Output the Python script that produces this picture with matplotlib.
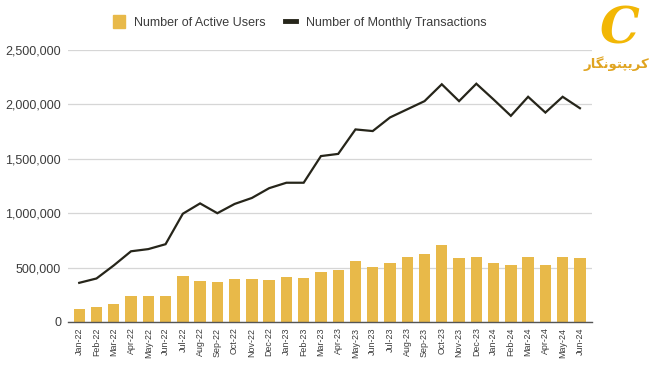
import matplotlib
matplotlib.use("Agg")
import matplotlib.pyplot as plt
from matplotlib.patches import Patch
from matplotlib.lines import Line2D
from matplotlib.ticker import FuncFormatter

months = ["Jan-22", "Feb-22", "Mar-22", "Apr-22", "May-22", "Jun-22", "Jul-22", "Aug-22",
          "Sep-22", "Oct-22", "Nov-22", "Dec-22", "Jan-23", "Feb-23", "Mar-23", "Apr-23",
          "May-23", "Jun-23", "Jul-23", "Aug-23", "Sep-23", "Oct-23", "Nov-23", "Dec-23",
          "Jan-24", "Feb-24", "Mar-24", "Apr-24", "May-24", "Jun-24"]

active_users = [117000, 138000, 166000, 242000, 242000, 242000, 424000, 377000,
                366000, 396000, 396000, 387000, 414000, 405000, 460000, 481000,
                558000, 509000, 546000, 599000, 627000, 704000, 586000, 595000,
                540000, 528000, 595000, 528000, 595000, 586000]

monthly_tx = [360000, 400000, 520000, 650000, 670000, 715000, 995000, 1090000,
              1000000, 1085000, 1140000, 1230000, 1280000, 1280000, 1525000, 1545000,
              1770000, 1755000, 1880000, 1955000, 2030000, 2185000, 2030000, 2190000,
              2045000, 1895000, 2070000, 1925000, 2070000, 1965000]

legend_labels = ["Number of Active Users", "Number of Monthly Transactions"]
logo_text = "کریپتونگار"


def shape_persian(s):
    # (isolated, final, initial, medial); None initial = non-joining to the left
    forms = {
        "ک": ("\uFB8E", "\uFB8F", "\uFB90", "\uFB91"),
        "ر": ("\uFEAD", "\uFEAE", None, None),
        "ی": ("\uFBFC", "\uFBFD", "\uFBFE", "\uFBFF"),
        "پ": ("\uFB56", "\uFB57", "\uFB58", "\uFB59"),
        "ت": ("\uFE95", "\uFE96", "\uFE97", "\uFE98"),
        "و": ("\uFEED", "\uFEEE", None, None),
        "ن": ("\uFEE5", "\uFEE6", "\uFEE7", "\uFEE8"),
        "گ": ("\uFB92", "\uFB93", "\uFB94", "\uFB95"),
        "ا": ("\uFE8D", "\uFE8E", None, None),
    }
    out = []
    n = len(s)
    for i, ch in enumerate(s):
        f = forms.get(ch)
        if f is None:
            out.append(ch)
            continue
        prev_joins = i > 0 and s[i-1] in forms and forms[s[i-1]][2] is not None
        next_joins = i < n-1 and s[i+1] in forms and f[2] is not None
        if prev_joins and next_joins:
            out.append(f[3])
        elif prev_joins:
            out.append(f[1])
        elif next_joins:
            out.append(f[2])
        else:
            out.append(f[0])
    return "".join(reversed(out))


BAR = "#E8B949"
LINE = "#26251a"
TXT = "#3c3c3c"

plt.rcParams['font.family'] = ['Liberation Sans', 'DejaVu Sans']

fig = plt.figure(figsize=(6.5, 3.65), dpi=100)
ax = fig.add_axes([68/650, 1-322/365, (592-68)/650, (322-50)/365])

x = list(range(len(months)))
ax.bar(x, active_users, width=0.66, color=BAR, zorder=2)
ax.plot(x, monthly_tx, color=LINE, lw=1.6, zorder=3, solid_joinstyle='miter')

ax.set_ylim(0, 2500000)
ax.set_xlim(-0.65, 29.7)
ax.set_yticks([0, 500000, 1000000, 1500000, 2000000, 2500000])
ax.yaxis.set_major_formatter(FuncFormatter(lambda v, p: f"{int(v):,}"))
ax.grid(axis='y', color='#d6d6d6', lw=0.9, zorder=0)
ax.set_axisbelow(True)
for s in ['top', 'right', 'left']:
    ax.spines[s].set_visible(False)
ax.spines['bottom'].set_color('#555555')
ax.spines['bottom'].set_linewidth(1.0)
ax.spines['bottom'].set_zorder(4)
ax.tick_params(axis='y', length=0, pad=5, labelsize=9, labelcolor=TXT)
ax.tick_params(axis='x', length=0, pad=4, labelsize=6.4, labelcolor=TXT)
ax.set_xticks(x)
ax.set_xticklabels(months, rotation=90)

handles = [Patch(facecolor=BAR, edgecolor=BAR),
           Line2D([0], [0], color=LINE, lw=3.5)]
fig.legend(handles, legend_labels, loc='center', bbox_to_anchor=(300/650, 1-22/365),
           ncol=2, frameon=False, fontsize=9, handlelength=0.9, handleheight=1.2,
           columnspacing=1.5, handletextpad=0.8, labelcolor=TXT)

# watermark logo
fig.text(619/650, 1-30/365, "C", fontsize=36, color="#F2B705", family='DejaVu Serif',
         style='italic', weight='bold', ha='center', va='center')
fig.text(616/650, 1-64/365, shape_persian(logo_text), fontsize=9.5, color="#E0A420",
         family='DejaVu Sans', weight='bold', ha='center', va='center')

fig.savefig("out.png", dpi=100, facecolor='white')
